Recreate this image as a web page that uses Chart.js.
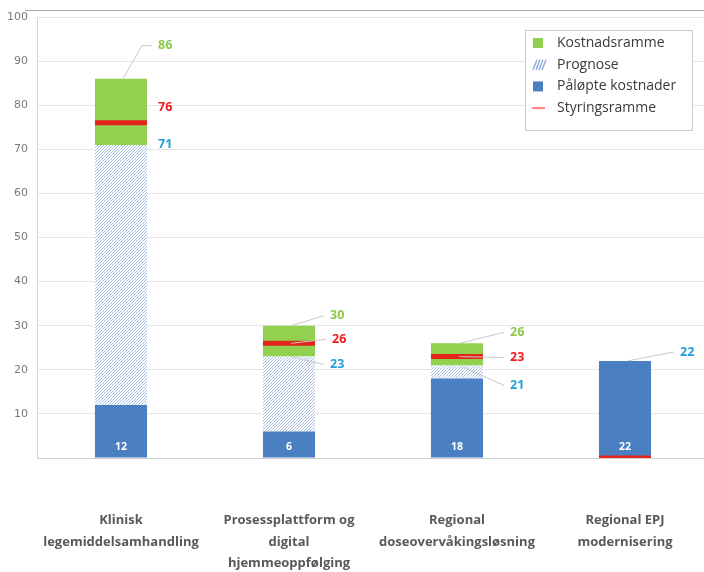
<!DOCTYPE html>
<html lang="no">
<head>
<meta charset="UTF-8">
<title>Kostnader</title>
<style>
    html, body { margin: 0; padding: 0; overflow: hidden; background: #fff; }
    #canvas { display: block; }
</style>
</head>
<body>
<canvas id="canvas" width="710" height="572"></canvas>

<script src="https://cdn.jsdelivr.net/npm/chart.js@4.4.1/dist/chart.umd.min.js"></script>
<script>
    const canvas = document.getElementById("canvas");
    const ctx = canvas.getContext("2d");

    const PROSJEKTER = [
        ["Klinisk", "legemiddelsamhandling"],
        ["Prosessplattform og", "digital", "hjemmeoppfølging"],
        ["Regional", "doseovervåkingsløsning"],
        ["Regional EPJ", "modernisering"]
    ];
    const PALOPTE = [12, 6, 18, 22];
    const PROGNOSE = [71, 23, 21, 22];
    const KOSTNADSRAMME = [86, 30, 26, null];
    const STYRINGSRAMME = [76, 26, 23, 0];

    const colors = {
        blue: "#4a7fc1",
        green: "#92d050",
        red: "#e4231a",
        textGreen: "#8cc84b",
        textRed: "#f01c1c",
        textBlue: "#1fa0dc",
        hatch: "#a9c0e2"
    };

    // label offsets from bar centre / value pixel: [dx, dy, leader line]
    const labelPos = [
        {ramme: [37, -33, true], styr: [37, -15, false], prog: [37, 0, false]},
        {ramme: [41, -10, true], styr: [43, -4, true], prog: [41, 8, true]},
        {ramme: [53, -11, true], styr: [53, 1, true], prog: [53, 20, true]},
        {ramme: null, styr: null, prog: [55, -9, true]}
    ];

    function hatchPattern() {
        const c = document.createElement("canvas");
        c.width = 3;
        c.height = 3;
        const g = c.getContext("2d");
        g.fillStyle = "#ffffff";
        g.fillRect(0, 0, 3, 3);
        g.fillStyle = colors.hatch;
        for (let i = 0; i < 3; i++) g.fillRect(i, 2 - i, 1, 1);
        return ctx.createPattern(c, "repeat");
    }
    const hatch = hatchPattern();

    const valueFont = "bold 12.5px 'Open Sans'";

    const frameAndLabels = {
        id: "frameAndLabels",
        beforeDraw(chart) {
            const c = chart.ctx;
            c.save();
            c.strokeStyle = "#a6a6a6";
            c.lineWidth = 1;
            c.beginPath();
            c.moveTo(25, 10.5);
            c.lineTo(chart.width, 10.5);
            c.stroke();
            c.restore();
        },
        afterDatasetsDraw(chart) {
            const c = chart.ctx;
            const y = chart.scales.y;
            const bars = chart.getDatasetMeta(1).data;
            c.save();
            c.textBaseline = "middle";
            PROSJEKTER.forEach((p, i) => {
                const cx = bars[i].x;
                const pos = labelPos[i];
                const items = [
                    [KOSTNADSRAMME[i], pos.ramme, colors.textGreen],
                    [STYRINGSRAMME[i], pos.styr, colors.textRed],
                    [PROGNOSE[i], pos.prog, colors.textBlue]
                ];
                items.forEach(([v, lp, col]) => {
                    if (v == null || !lp) return;
                    const yv = y.getPixelForValue(v);
                    const lx = cx + lp[0];
                    const ly = yv + lp[1];
                    if (lp[2]) {
                        c.strokeStyle = "#c8c8c8";
                        c.lineWidth = 1;
                        c.beginPath();
                        c.moveTo(cx + 2, yv);
                        if (lp[1] < -20) {
                            c.lineTo(lx - 16, ly);
                        }
                        c.lineTo(lx - 6, ly);
                        c.stroke();
                    }
                    c.font = valueFont;
                    c.fillStyle = col;
                    c.textAlign = "left";
                    c.fillText(String(v), lx, ly);
                });
                // white value inside the blue bar
                c.font = "bold 10.5px 'Open Sans'";
                c.fillStyle = "#fff";
                c.textAlign = "center";
                c.fillText(String(PALOPTE[i]), cx, y.getPixelForValue(0) - 11);
            });
            c.restore();
        },
        afterDraw(chart) {
            const c = chart.ctx;
            const bx = 525, by = 30, bw = 167, bh = 100;
            c.save();
            c.fillStyle = "#fff";
            c.fillRect(bx, by, bw, bh);
            c.strokeStyle = "#c4cad6";
            c.lineWidth = 1;
            c.strokeRect(bx + 0.5, by + 0.5, bw, bh);
            const entries = [
                ["Kostnadsramme", colors.green, "box"],
                ["Prognose", hatch, "hatch"],
                ["Påløpte kostnader", colors.blue, "box"],
                ["Styringsramme", "#ff8080", "line"]
            ];
            c.font = "14px 'Open Sans'";
            c.textBaseline = "middle";
            c.textAlign = "left";
            entries.forEach(([txt, fill, kind], k) => {
                const yy = 43 + k * 21.7;
                if (kind === "line") {
                    c.strokeStyle = fill;
                    c.lineWidth = 2;
                    c.beginPath();
                    c.moveTo(532, yy);
                    c.lineTo(545, yy);
                    c.stroke();
                } else if (kind === "hatch") {
                    c.strokeStyle = "#8fb0dc";
                    c.lineWidth = 1.5;
                    c.beginPath();
                    for (let d = 0; d < 4; d++) {
                        c.moveTo(533 + d * 3, yy + 5);
                        c.lineTo(537 + d * 3, yy - 5);
                    }
                    c.stroke();
                } else {
                    c.fillStyle = fill;
                    c.fillRect(533, yy - 5, 10, 10);
                }
                c.fillStyle = "#3a3a3a";
                c.fillText(txt, 557, yy);
            });
            c.restore();
        }
    };

    const config = {
        type: "bar",
        data: {
            labels: PROSJEKTER,
            datasets: [
                {
                    type: "line",
                    label: "Styringsramme",
                    data: STYRINGSRAMME,
                    stack: "ref",
                    order: 0,
                    showLine: false,
                    pointStyle: "line",
                    pointRadius: 26,
                    pointHoverRadius: 26,
                    pointBorderWidth: 5,
                    pointHoverBorderWidth: 5,
                    borderColor: colors.red,
                    backgroundColor: colors.red
                },
                {
                    label: "Påløpte kostnader",
                    data: PALOPTE,
                    backgroundColor: colors.blue,
                    stack: "kost",
                    order: 1
                },
                {
                    label: "Prognose",
                    data: PROGNOSE.map((v, i) => v - PALOPTE[i]),
                    backgroundColor: hatch,
                    stack: "kost",
                    order: 1
                },
                {
                    label: "Kostnadsramme",
                    data: KOSTNADSRAMME.map((v, i) => v == null ? null : v - PROGNOSE[i]),
                    backgroundColor: colors.green,
                    stack: "kost",
                    order: 1
                }
            ]
        },
        options: {
            responsive: false,
            animation: false,
            layout: {autoPadding: false, padding: {top: 17, right: 1, left: 0, bottom: 0}},
            datasets: {bar: {barPercentage: 0.31, categoryPercentage: 1}},
            plugins: {
                legend: {display: false},
                tooltip: {enabled: false}
            },
            scales: {
                x: {
                    stacked: true,
                    grid: {display: false, drawTicks: false},
                    border: {color: "#d0d0d0"},
                    ticks: {
                        autoSkip: false,
                        maxRotation: 0,
                        padding: 52,
                        color: "#595959",
                        font: {family: "'Open Sans'", size: 13, weight: "bold", lineHeight: 21.5 / 13}
                    },
                    afterFit(scale) {
                        scale.height = 114;
                        scale.paddingLeft = 0;
                        scale.paddingRight = 0;
                    }
                },
                y: {
                    stacked: true,
                    min: 0,
                    max: 100,
                    grid: {color: "#e6e6e6", drawTicks: false},
                    border: {color: "#d6d6d6"},
                    ticks: {
                        stepSize: 10,
                        padding: 9,
                        color: "#7a7a7a",
                        font: {family: "'DejaVu Sans'", size: 11},
                        callback: (v) => v === 0 ? "" : v
                    },
                    afterFit(scale) {
                        scale.width = 37;
                        scale.paddingTop = 0;
                        scale.paddingBottom = 0;
                    }
                }
            }
        },
        plugins: [frameAndLabels]
    };

    const chart = new Chart(ctx, config);
</script>
</body>
</html>
